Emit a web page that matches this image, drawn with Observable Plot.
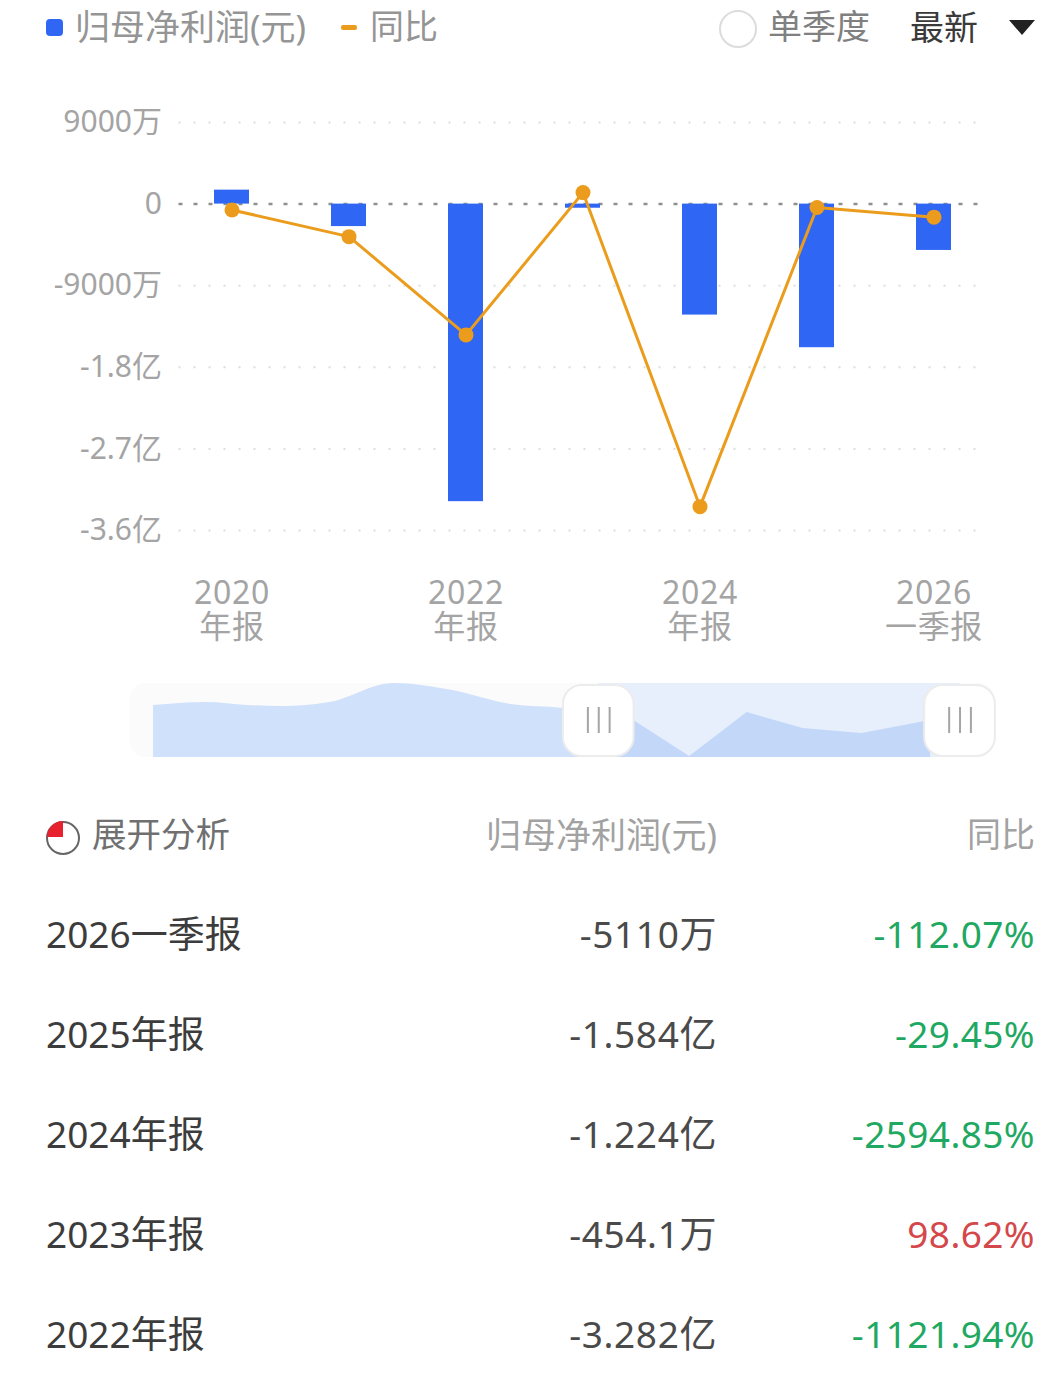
<!DOCTYPE html>
<html><head><meta charset="utf-8">
<script src="https://cdn.jsdelivr.net/npm/d3@7"></script>
<script src="https://cdn.jsdelivr.net/npm/@observablehq/plot@0.6"></script>
<style>
html,body{margin:0;padding:0;background:#fff;}
body{width:1052px;height:1373px;position:relative;overflow:hidden;font-family:"Noto Sans","Noto Sans CJK SC",sans-serif;font-weight:400;}
.t{position:absolute;white-space:nowrap;line-height:1;transform:translateY(-50%);}
.r{transform:translate(-100%,-50%);}
.abs{position:absolute;left:0;}
.xlab text{letter-spacing:.7px;}
svg{display:block;}
</style></head><body>
<div id="chart" class="abs" style="top:0"></div>
<div id="brush" class="abs" style="top:675px"></div>
<div id="ui"></div>
<script>
// ----- main chart data (万元 / %)
const periods = ["2020年报","2021年报","2022年报","2023年报","2024年报","2025年报","2026一季报"];
const profit = [1540,-2480,-32820,-454.1,-12240,-15840,-5110];
const yoy = [-50,-279,-1121.94,98.62,-2594.85,-29.45,-112.07];
const yoyToProfit = 12.86; // right-hand (hidden) axis ratio: 万元 per %
const xTickLabels = ["2020年报","2022年报","2024年报","2026一季报"];
const yTicks = [9000,0,-9000,-18000,-27000,-36000];
const yTickLabels = ["9000万","0","-9000万","-1.8亿","-2.7亿","-3.6亿"];
// ----- overview strip data
const overviewPos = [0,6.8,12.1,16.6,22.7,30.9,38.5,46,52.8,57];
const overviewLevel = [52,55,52,51,55,74,67,53,49,44];
const selectedPos = [57,61.4,69,76.4,83.6,91.2,100];
const selectedLevel = [44,39,1,45,29,24,37];
const handlePos = [57.3,103.8];
// ----- table data
const rowPeriods = ["2026一季报","2025年报","2024年报","2023年报","2022年报"];
const rowProfit = ["-5110万","-1.584亿","-1.224亿","-454.1万","-3.282亿"];
const rowYoy = ["-112.07%","-29.45%","-2594.85%","98.62%","-1121.94%"];

const BLUE="#2f66f4", ORANGE="#eb9c1c", FONT='"Noto Sans","Noto Sans CJK SC",sans-serif';
const rows = periods.map((p,i)=>({p,profit:profit[i],yoy:yoy[i]}));
const labelOf = new Map(yTicks.map((v,i)=>[v,yTickLabels[i]]));

const chart = Plot.plot({
  width:1052,height:660,
  marginLeft:173.5,marginRight:59.5,marginTop:122,marginBottom:130,
  style:{fontFamily:FONT,background:"transparent",overflow:"visible"},
  x:{type:"band",domain:periods,paddingInner:0.7,paddingOuter:0.35,align:0.5,label:null},
  y:{domain:[-36000,9000],label:null},
  marks:[
    Plot.ruleY(yTicks.filter(v=>v!==0),{stroke:"#dedede",strokeWidth:2,strokeDasharray:"2 13",insetLeft:5,insetRight:8}),
    Plot.ruleY([0],{stroke:"#8f8f8f",strokeWidth:2.5,strokeDasharray:"4 11",insetLeft:5,insetRight:8}),
    Plot.barY(rows,{x:"p",y:"profit",fill:BLUE}),
    Plot.line(rows,{x:"p",y:d=>d.yoy*yoyToProfit,stroke:ORANGE,strokeWidth:3,curve:"linear"}),
    Plot.dot(rows,{x:"p",y:d=>d.yoy*yoyToProfit,r:7.5,fill:ORANGE,stroke:"none"}),
    Plot.axisY({ticks:yTicks,tickFormat:v=>labelOf.get(v),tickSize:0,tickPadding:12,fontSize:30,fill:"#a4a4a4",label:null}),
    Plot.axisX({ticks:xTickLabels,tickFormat:s=>s.slice(0,4)+"\n"+s.slice(4),tickSize:0,tickPadding:50,fontSize:32,lineHeight:1.05,fill:"#a4a4a4",label:null,className:"xlab"})
  ]
});
document.getElementById("chart").append(chart);

const ov = overviewPos.map((x,i)=>({x,y:overviewLevel[i]}));
const sel = selectedPos.map((x,i)=>({x,y:selectedLevel[i]}));
const handleW = 4.55, gripW = 1.4;
const brush = Plot.plot({
  width:1052,height:90,margin:0,
  style:{background:"transparent"},
  x:{domain:[-19.7,115.7],axis:null},
  y:{domain:[-8,82],axis:null},
  marks:[
    Plot.rect([{a:-3,b:handlePos[1]+4.5}],{x1:"a",x2:"b",y1:0,y2:74,fill:"#fbfbfb",rx:16}),
    Plot.rect([{a:handlePos[0],b:handlePos[1]}],{x1:"a",x2:"b",y1:0,y2:74,fill:"#e7effc"}),
    Plot.areaY(ov,{x:"x",y:"y",fill:"#d0e1fb",curve:"monotone-x"}),
    Plot.areaY(sel,{x:"x",y:"y",fill:"#c3d7f9",curve:"linear"}),
    Plot.rect(handlePos,{x1:d=>d-handleW,x2:d=>d+handleW,y1:1,y2:72,fill:"#fff",stroke:"#ececec",strokeWidth:2,rx:19}),
    Plot.ruleX(handlePos.flatMap(d=>[d-gripW,d,d+gripW]),{y1:24,y2:50,stroke:"#a5a5a5",strokeWidth:2})
  ]
});
document.getElementById("brush").append(brush);

// ----- HTML chrome
const ui = document.getElementById("ui");
function text(s,x,y,size,color,right,spacing){
  const e=document.createElement("div");
  e.className="t"+(right?" r":"");
  e.textContent=s;
  e.style.cssText=`left:${x}px;top:${y}px;font-size:${size}px;color:${color};letter-spacing:${spacing||0}px`;
  ui.append(e);
}
function box(css){const e=document.createElement("div");e.style.cssText="position:absolute;"+css;ui.append(e);}
box(`left:46px;top:19px;width:17px;height:17px;border-radius:4px;background:${BLUE}`);
text("归母净利润(元)",75,26,35,"#959595");
box(`left:341px;top:25px;width:16px;height:5px;border-radius:2px;background:${ORANGE}`);
text("同比",370,26,34,"#959595");
box("left:719px;top:10px;width:34px;height:34px;border-radius:50%;border:2px solid #dcdcdc");
text("单季度",768,26,34,"#808080");
text("最新",910,27,34,"#3a3a3a");
box("left:1009px;top:20px;width:0;height:0;border-left:13px solid transparent;border-right:13px solid transparent;border-top:15px solid #222");
ui.insertAdjacentHTML("beforeend",`<svg style="position:absolute;left:44px;top:818px" width="38" height="38" viewBox="0 0 38 38"><circle cx="19" cy="20" r="16" fill="none" stroke="#666" stroke-width="2"/><path d="M19 19V3A16 16 0 0 0 3 19Z" fill="#e8212e"/></svg>`);
text("展开分析",92,834,34.5,"#707070");
text("归母净利润(元)",717,834,35,"#a2a2a2",true);
text("同比",1035,834,34,"#a2a2a2",true);
const rowY=[933,1033,1133,1233,1333];
const GREEN="#1fa862", RED="#d4474b";
rowPeriods.forEach((p,i)=>{
  text(p,46,rowY[i],37,"#3c3c3c");
  text(rowProfit[i],717,rowY[i],37,"#4a4a4a",true,.6);
  text(rowYoy[i],1035,rowY[i],37,rowYoy[i][0]==="-"?GREEN:RED,true,.4);
});
</script>
</body></html>
